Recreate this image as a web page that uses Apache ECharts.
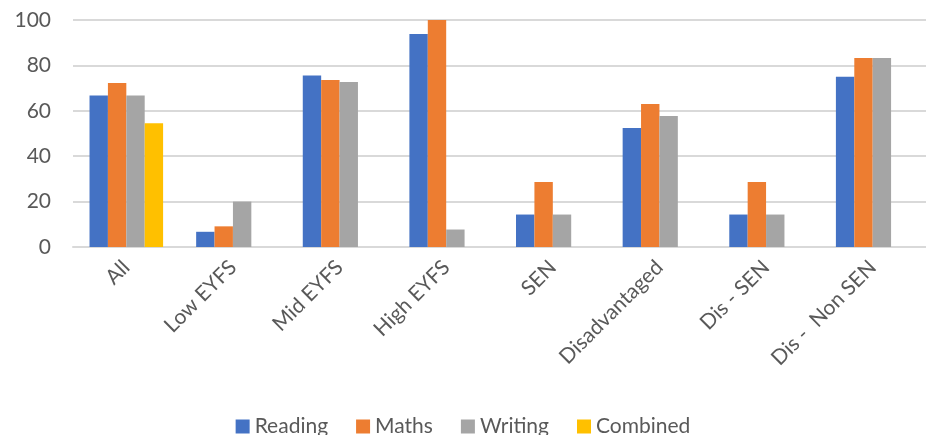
<!DOCTYPE html>
<html><head><meta charset="utf-8">
<script src="https://cdn.jsdelivr.net/npm/echarts@6/dist/echarts.min.js"></script>
<style>html,body{margin:0;padding:0;background:#fff}#c{width:926px;height:435px}</style>
</head><body><div id="c"></div>
<script>
const categories = ["All","Low EYFS","Mid EYFS","High EYFS","SEN","Disadvantaged","Dis - SEN","Dis -  Non SEN"];
const reading  = [66.7, 6.7, 75.6, 93.8, 14.3, 52.4, 14.3, 75.0];
const maths    = [72.2, 9.1, 73.6, 100, 28.6, 63.0, 28.6, 83.3];
const writing  = [66.7, 20.0, 72.7, 7.7, 14.3, 57.7, 14.3, 83.3];
const combined = [54.5, null, null, null, null, null, null, null];
const seriesNames = ["Reading","Maths","Writing","Combined"];
const colors = ["#4472C4","#ED7D31","#A5A5A5","#FFC000"];
const yTicks = [0,20,40,60,80,100];

const font = "Lato, 'Liberation Sans', sans-serif";
const chart = echarts.init(document.getElementById('c'));
const data = [reading, maths, writing, combined];
chart.setOption({
  animation:false,
  color: colors,
  grid:{left:73,right:0,top:20,bottom:188,containLabel:false},
  legend:{
    data: seriesNames, bottom:-7, left:'center',
    itemWidth:14, itemHeight:14, itemGap:28, icon:'rect',
    textStyle:{fontFamily:font,fontSize:21,color:'#595959'}
  },
  xAxis:{
    type:'category', data:categories,
    axisLine:{lineStyle:{color:'#d9d9d9',width:2}},
    axisTick:{show:false},
    axisLabel:{rotate:45,fontFamily:font,fontSize:21,color:'#595959',margin:17,interval:0}
  },
  yAxis:{
    type:'value', min:yTicks[0], max:yTicks[yTicks.length-1], interval:20,
    axisLine:{show:false}, axisTick:{show:false},
    splitLine:{lineStyle:{color:'#d9d9d9',width:2}},
    axisLabel:{fontFamily:font,fontSize:21,color:'#595959',margin:22}
  },
  series: seriesNames.map((n,i)=>({
    name:n, type:'bar', data:data[i],
    barGap:'0%', barCategoryGap:'31%'
  }))
});
</script></body></html>
